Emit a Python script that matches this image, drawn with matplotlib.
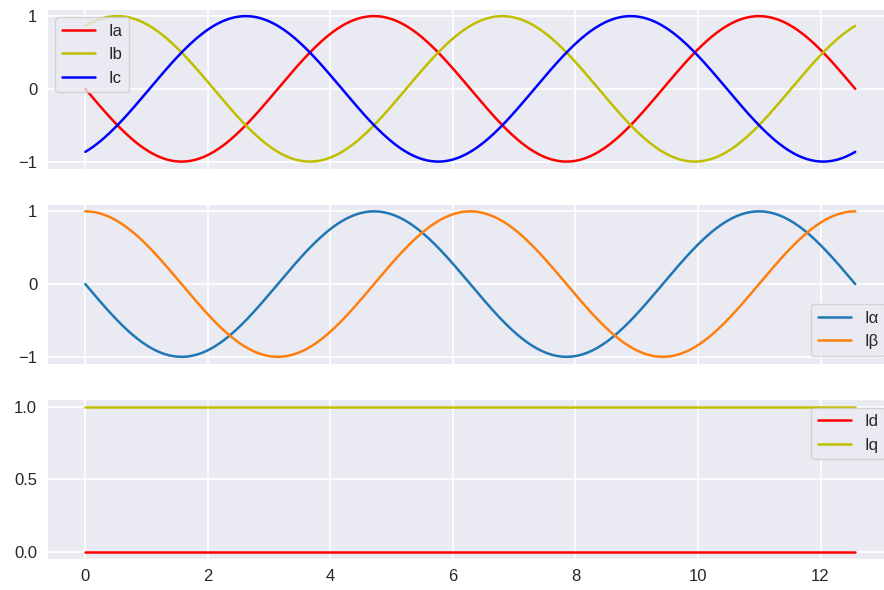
import numpy as np
import matplotlib
matplotlib.use("Agg")
import matplotlib.pyplot as plt
from matplotlib.ticker import MultipleLocator
import seaborn as sns

# electrical angle sweep: two full periods
theta_start = 0.0
theta_end = 4 * np.pi
n_samples = 400

# three-phase currents, unit amplitude, 120 deg apart
amplitude = 1.0
phase_a = 0.0
phase_b = -2 * np.pi / 3
phase_c = 2 * np.pi / 3

theta = np.linspace(theta_start, theta_end, n_samples)
ia = -amplitude * np.sin(theta + phase_a)
ib = -amplitude * np.sin(theta + phase_b)
ic = -amplitude * np.sin(theta + phase_c)

# Clarke transform (amplitude invariant)
i_alpha = ia
i_beta = (ia + 2 * ib) / np.sqrt(3)

# Park transform
i_d = i_alpha * np.cos(theta) + i_beta * np.sin(theta)
i_q = -i_alpha * np.sin(theta) + i_beta * np.cos(theta)

sns.set_style('darkgrid')
plt.rcParams['font.family'] = ['Liberation Sans', 'DejaVu Sans']
plt.rcParams['xtick.labelsize'] = 12
plt.rcParams['ytick.labelsize'] = 12
plt.rcParams['legend.fontsize'] = 12
plt.rcParams['lines.linewidth'] = 1.8
plt.rcParams['grid.linewidth'] = 1.2

fig, axes = plt.subplots(3, 1, sharex=True, figsize=(8.84, 5.9), dpi=100)
fig.subplots_adjust(left=0.053, right=1.011, top=0.985, bottom=0.052, hspace=0.22)

ax = axes[0]
ax.plot(theta, ia, color='r', label='Ia')
ax.plot(theta, ib, color='y', label='Ib')
ax.plot(theta, ic, color='b', label='Ic')
ax.yaxis.set_major_locator(MultipleLocator(1))
ax.legend(loc='upper left')

ax = axes[1]
ax.plot(theta, i_alpha, color='#1f77b4', label='Iα')
ax.plot(theta, i_beta, color='#ff7f0e', label='Iβ')
ax.yaxis.set_major_locator(MultipleLocator(1))
ax.legend(loc='lower right')

ax = axes[2]
ax.plot(theta, i_d, color='r', label='Id')
ax.plot(theta, i_q, color='y', label='Iq')
ax.yaxis.set_major_locator(MultipleLocator(0.5))
ax.legend(loc='upper right')

plt.savefig('out.png')
plt.close()
